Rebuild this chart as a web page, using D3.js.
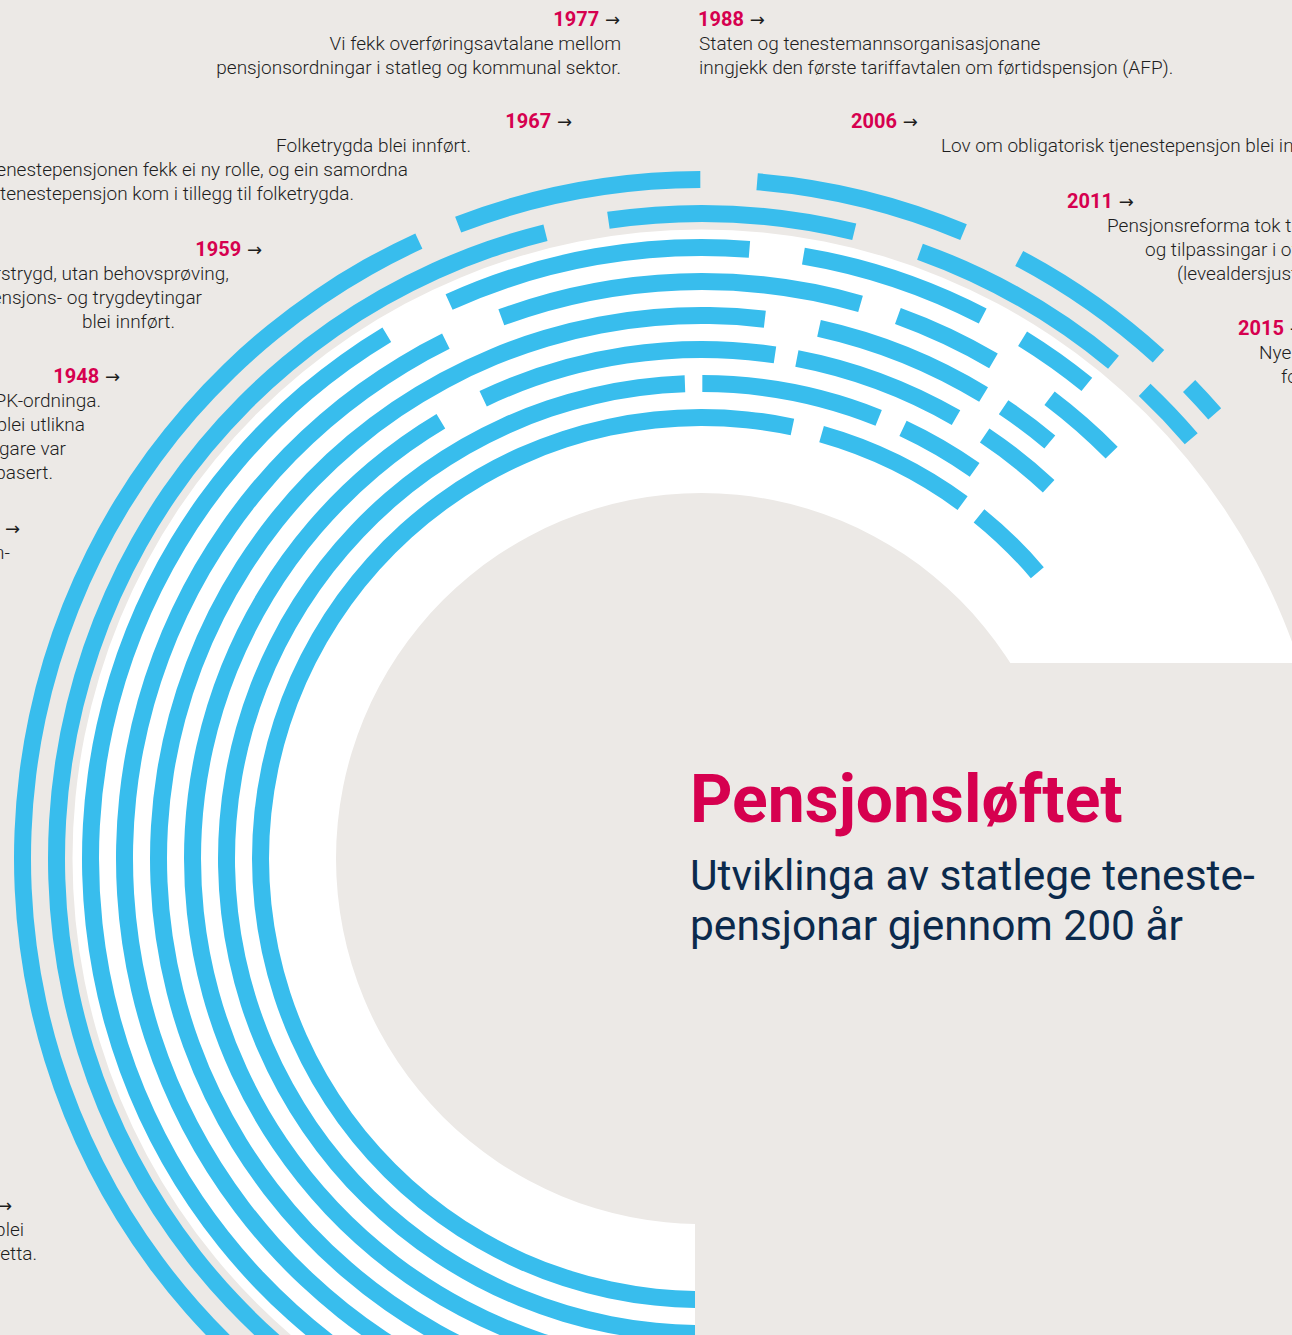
<!DOCTYPE html>
<html>
<head>
<meta charset="utf-8">
<script src="https://cdn.jsdelivr.net/npm/d3@7"></script>
<style>
  body { margin: 0; background: #ECE9E6; }
  svg { display: block; }
</style>
</head>
<body>
<div id="chart"></div>
<script>
// Ring segments, degrees (0 = top, clockwise), outermost ring first
var ring1 = [[-180, -24.6], [-21, -0.1], [4.7, 22.7], [27.9, 42.3], [45.9, 49.1]];
var ring2 = [[-180, -14], [-8.3, 13.7], [19.8, 39.7], [43.4, 49.4]];
var ring3 = [[-180, -31], [-24.4, 4.5], [9.6, 27.4], [31.7, 39.1]];
var ring4 = [[-180, -26.3], [-20.3, 16], [19.9, 30.4], [37.1, 45.3]];
var ring5 = [[-180, 6.7], [12.5, 31.3], [33.8, 39.9]];
var ring6 = [[-180, -30.8], [-25.4, 8.3], [10.8, 30], [33.8, 43]];
var ring7 = [[-180, -2], [0.1, 21.9], [25.1, 35.1]];
var ring8 = [[-180, 11.9], [15.8, 36.3], [39, 49.6]];
var rings = [ring1, ring2, ring3, ring4, ring5, ring6, ring7, ring8];

// Timeline notes
var years = ["1977", "1988", "1967", "2006", "2011", "2015", "1959", "1948", "1917", "1814"];
var notes = [
    ["Vi fekk overføringsavtalane mellom", "pensjonsordningar i statleg og kommunal sektor."],
    ["Staten og tenestemannsorganisasjonane", "inngjekk den første tariffavtalen om førtidspensjon (AFP)."],
    ["Folketrygda blei innført.", "Tenestepensjonen fekk ei ny rolle, og ein samordna", "tenestepensjon kom i tillegg til folketrygda."],
    ["Lov om obligatorisk tjenestepensjon blei innført."],
    ["Pensjonsreforma tok til å gjelde,", "og tilpassingar i offentleg tenestepensjon", "(levealdersjustering) blei gjort."],
    ["Nye reglar", "for"],
    ["Alderstrygd, utan behovsprøving,", "og regulering av pensjons- og trygdeytingar", "blei innført."],
    ["Vi fekk SPK-ordninga.", "Skilnadene blei utlikna", "der ordningane tidlegare var", "ulikt basert."],
    ["Statens pensjonskasse for tenestemenn-"],
    ["Den første pensjonsordninga blei", "oppretta."]
];

var title = "Pensjonsløftet";
var subtitle = ["Utviklinga av statlege teneste-", "pensjonar gjennom 200 år"];

// Layout for the note blocks: year anchor x, year baseline y, line anchors
var noteLayout = [
    {anchor: "end", yearX: 620, yearY: 26, lineX: [621, 621]},
    {anchor: "start", yearX: 698, yearY: 26, lineX: [699, 699]},
    {anchor: "end", yearX: 572, yearY: 128, lineX: [471, 408, 354]},
    {anchor: "start", yearX: 851, yearY: 128, lineX: [941]},
    {anchor: "start", yearX: 1067, yearY: 208, lineX: [1107, 1145, 1177]},
    {anchor: "start", yearX: 1238, yearY: 335, lineX: [1259, 1281]},
    {anchor: "end", yearX: 262, yearY: 256, lineX: [229, 202, 175]},
    {anchor: "end", yearX: 120, yearY: 383, lineX: [101, 85, 66, 53]},
    {anchor: "end", yearX: 20, yearY: 535, lineX: [10]},
    {anchor: "end", yearX: 12, yearY: 1212, lineX: [24, 37]}
];

var width = 1292, height = 1335;
var cx = 701.5, cy = 858.5;
var bandWidth = 17;

var svg = d3.select("#chart").append("svg")
    .attr("width", width)
    .attr("height", height);

svg.append("rect")
    .attr("width", width)
    .attr("height", height)
    .attr("fill", "#ECE9E6");

// Clip away the lower right quarter (below the title line)
svg.append("defs").append("clipPath")
    .attr("id", "cut")
    .append("path")
    .attr("d", "M0,0H" + width + "V663H695V" + height + "H0Z");

var angle = d3.scaleLinear().domain([-180, 180]).range([-Math.PI, Math.PI]);
var radius = d3.scaleLinear().domain([0, 7]).range([679, 441]);

var g = svg.append("g")
    .attr("clip-path", "url(#cut)")
    .append("g")
    .attr("transform", "translate(" + cx + "," + cy + ")");

// White band behind the inner rings
g.append("path")
    .attr("d", d3.arc()({innerRadius: 365.5, outerRadius: 629, startAngle: angle(-180), endAngle: angle(90)}))
    .attr("fill", "#FFFFFF");

var arc = d3.arc();
rings.forEach(function(segs, i) {
    var r = radius(i);
    g.selectAll(".ring" + i)
        .data(segs)
        .enter().append("path")
        .attr("class", "ring" + i)
        .attr("fill", "#38BDED")
        .attr("d", function(d) {
            return arc({innerRadius: r - bandWidth / 2, outerRadius: r + bandWidth / 2,
                startAngle: angle(d[0]), endAngle: angle(d[1])});
        });
});

// Notes
var font = "Roboto, 'Noto Sans', sans-serif";
notes.forEach(function(lines, i) {
    var L = noteLayout[i];
    var yr = svg.append("text")
        .attr("x", L.yearX)
        .attr("y", L.yearY)
        .attr("text-anchor", L.anchor)
        .style("font-family", font)
        .style("font-size", "20px");
    yr.append("tspan").text(years[i]).attr("fill", "#D6004F").style("font-weight", "bold");
    yr.append("tspan").text(" →").attr("fill", "#1E1E1E")
        .style("font-family", "'DejaVu Sans', sans-serif")
        .style("font-size", "18px");

    lines.forEach(function(line, j) {
        svg.append("text")
            .attr("x", L.lineX[j])
            .attr("y", L.yearY + 24 * (j + 1))
            .attr("text-anchor", L.anchor)
            .attr("fill", "#1E1E1E")
            .style("font-family", font)
            .style("font-size", "19px")
            .style("font-weight", 300)
            .text(line);
    });
});

// Title
svg.append("text")
    .attr("x", 690)
    .attr("y", 822)
    .attr("fill", "#D6004F")
    .style("font-family", font)
    .style("font-size", "66px")
    .style("font-weight", "bold")
    .text(title);

subtitle.forEach(function(line, j) {
    svg.append("text")
        .attr("x", 690)
        .attr("y", 890 + 50 * j)
        .attr("fill", "#0B2A4C")
        .style("font-family", font)
        .style("font-size", "42.5px")
        .text(line);
});
</script>
</body>
</html>
